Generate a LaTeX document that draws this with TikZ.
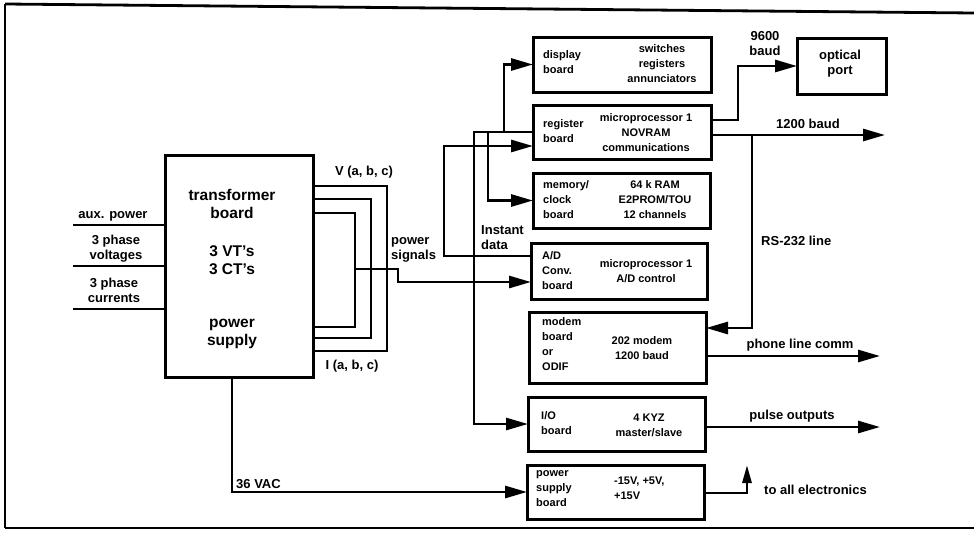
\documentclass[tikz,border=0pt]{standalone}
\usepackage{fontspec}
\setmainfont{Liberation Sans}
\usetikzlibrary{arrows.meta,calc}
\begin{document}
\begin{tikzpicture}[x=1pt,y=-1pt,
  wire/.style={line width=2.8pt},
  arr/.style={-{Triangle[length=22pt,width=12pt]}},
  sarr/.style={-{Triangle[length=18pt,width=9pt]}},
  box/.style={draw,line width=3pt,inner sep=0pt,outer sep=0pt},
  lbl/.style={font=\fontsize{13}{15}\selectfont\bfseries,inner sep=0pt},
  btx/.style={font=\fontsize{11}{15}\selectfont\bfseries,inner sep=0pt},
  ttx/.style={font=\fontsize{15.5}{18}\selectfont\bfseries,inner sep=0pt,align=center}]
\useasboundingbox (0,0) rectangle (974,533);
% frame
\draw[line width=2.8pt] (5,4) -- (974,13);
\draw[line width=2.8pt] (5,4) -- (5,528);
\draw[line width=2.8pt] (5,528) -- (974,528);
% boxes
\node[box,minimum width=148pt,minimum height=222pt] (tb) at (239,266) {};
\node[box,minimum width=178pt,minimum height=55pt] (disp) at (622,64.5) {};
\node[box,minimum width=178pt,minimum height=54pt] (reg) at (622,132) {};
\node[box,minimum width=177pt,minimum height=55pt] (mem) at (621.5,200.5) {};
\node[box,minimum width=176pt,minimum height=56pt] (adc) at (619,271) {};
\node[box,minimum width=177pt,minimum height=71pt] (modem) at (617.5,347.5) {};
\node[box,minimum width=177pt,minimum height=54pt] (io) at (616.5,424) {};
\node[box,minimum width=177pt,minimum height=54pt] (psb) at (615.5,492) {};
\node[box,minimum width=89pt,minimum height=56pt] (opt) at (841.5,66) {};
% transformer text
\node[ttx] (tb1) at (232,204) {transformer\\board};
\node[ttx] (tb2) at (232,260) {3 VT's\\3 CT's};
\node[ttx] (tb3) at (232,334) {power\\supply};
% board texts
\node[btx,anchor=west,align=left] (d1) at (543,62.5) {display\\board};
\node[btx,align=center] (d2) at (662,64) {switches\\registers\\annunciators};
\node[btx,anchor=west,align=left] (r1t) at (543,131.5) {register\\board};
\node[btx,align=center] (r2t) at (646,133) {microprocessor 1\\NOVRAM\\communications};
\node[btx,anchor=west,align=left] (m1) at (543,200) {memory/\\clock\\board};
\node[btx,align=center] (m2) at (655,200) {64 k RAM\\E2PROM/TOU\\12 channels};
\node[btx,anchor=west,align=left] (a1) at (542,271) {A/D\\Conv.\\board};
\node[btx,align=center] (a2) at (646,271) {microprocessor 1\\A/D control};
\node[btx,anchor=west,align=left] (mo1) at (542,344) {modem\\board\\or\\ODIF};
\node[btx,align=center] (mo2) at (642,348) {202 modem\\1200 baud};
\node[btx,anchor=west,align=left] (i1) at (541,423) {I/O\\board};
\node[btx,align=center] (i2) at (649,425) {4 KYZ\\master/slave};
\node[btx,anchor=west,align=left] (ps1) at (536,489) {power\\supply\\board};
\node[btx,anchor=west,align=left] (ps2) at (614,488) {-15V, +5V,\\+15V};
\node[lbl,align=center] (o1) at (840,64) {optical\\port};
% inputs
\draw[wire] ($(tb.north west)+(0,70)$) -- ++(-92,0);
\draw[wire] ($(tb.north west)+(0,111)$) -- ++(-92,0);
\draw[wire] ($(tb.north west)+(0,154)$) -- ++(-92,0);
\node[lbl] (l1) at (113,216) {aux. power};
\node[lbl,align=center] (l2) at (116,248.5) {3 phase\\voltages};
\node[lbl,align=center] (l3) at (114,290.5) {3 phase\\currents};
% loops
\draw[wire] ($(tb.north east)+(0,31)$) -- ++(74,0) -- ++(0,165) -- ++(-74,0);
\draw[wire] ($(tb.north east)+(0,44)$) -- ++(58,0) -- ++(0,139) -- ++(-58,0);
\draw[wire] ($(tb.north east)+(0,58)$) -- ++(42,0) -- ++(0,114) -- ++(-42,0);
\node[lbl] (vl) at (364,172) {V (a, b, c)};
\node[lbl] (il) at (352,366) {I (a, b, c)};
\node[lbl,anchor=west,align=left] (psl) at (391,250) {power\\signals};
% power signals to A/D
\coordinate (p1) at (355,269);
\coordinate (p2) at (398,269);
\draw[wire,arr] (p1) -- (p2) |- ($(adc.west)+(0,11)$);
% A/D to register
\coordinate (c1) at (444,256);
\draw[wire,arr] ($(adc.west)+(0,-15)$) -- (c1) |- ($(reg.west)+(0,14)$);
% register bus
\coordinate (b1) at (474,132);
\coordinate (b2) at (504,132);
\coordinate (b3) at (488,132);
\draw[wire,arr] (reg.west) -- (b1) |- (io.west);
\draw[wire,arr] (b2) |- (disp.west);
\draw[wire,arr] (b3) |- (mem.west);
\node[lbl,anchor=west,align=left] (idl) at (481,238) {Instant\\data};
% 36 VAC
\draw[wire,arr] ($(tb.south)+(-7,0)$) |- (psb.west);
\node[lbl,anchor=west] (vac) at (236,484) {36 VAC};
% right side
\draw[wire,arr] ($(reg.east)+(0,-12)$) -- ++(27,0) |- (opt.west);
\node[lbl,align=center] (b96) at (765,43.5) {9600\\baud};
\coordinate (e1) at (885,135);
\draw[wire,arr] ($(reg.east)+(0,3)$) -- (e1);
\node[lbl] (b12) at (808,124) {1200 baud};
\coordinate (rs) at (752,135);
\draw[wire,arr] (rs) |- ($(modem.east)+(0,-19.5)$);
\node[lbl,anchor=west] (rsl) at (761,241) {RS-232 line};
\draw[wire,arr] ($(modem.east)+(0,8.5)$) -- ++(174,0);
\node[lbl] (phl) at (800,345) {phone line comm};
\draw[wire,arr] ($(io.east)+(0,3)$) -- ++(175,0);
\node[lbl] (pul) at (792,416) {pulse outputs};
\coordinate (ps3) at (747,465);
\draw[wire,sarr] ($(psb.east)+(0,1)$) -| (ps3);
\node[lbl,anchor=west] (tal) at (764,490) {to all electronics};
\end{tikzpicture}
\end{document}
